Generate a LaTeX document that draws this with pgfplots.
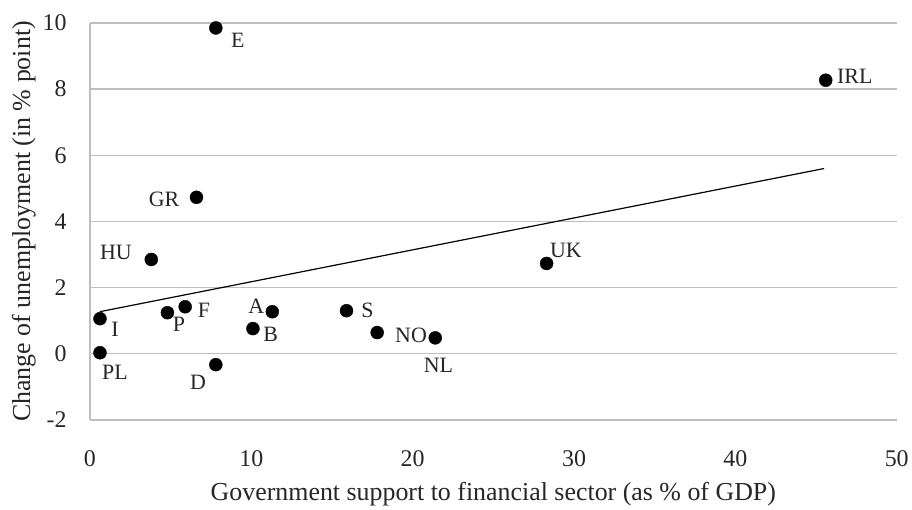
\documentclass[border=0pt]{standalone}
\usepackage{pgfplots}
\pgfplotsset{compat=1.18}
\usepackage{fontspec}
\setmainfont{Liberation Serif}
\definecolor{gridc}{RGB}{190,190,190}
\begin{document}
\begin{tikzpicture}
\begin{axis}[
  name=ax,
  scale only axis, width=807bp, height=397bp,
  xmin=0, xmax=50, ymin=-2, ymax=10,
  xtick={0,10,...,50}, ytick={-2,0,...,10},
  axis x line=bottom, axis y line=left,
  axis line style={-, gridc, line width=1.4bp},
  ymajorgrids, grid style={gridc, line width=1.4bp},
  major tick length=0pt,
  tick label style={font=\fontsize{24}{28}\selectfont, text=black!85},
  /pgf/number format/assume math mode=true,
  xticklabel style={yshift=-27bp},
  yticklabel style={xshift=-20bp},
  xlabel={Government support to financial sector (as \% of GDP)},
  ylabel={Change of unemployment (in \% point)},
  label style={font=\fontsize{26}{30}\selectfont, text=black!85},
  xlabel style={yshift=-9bp},
  ylabel style={yshift=0bp},
  clip=false,
]
\addplot[only marks, mark=*, mark size=6.5bp, black] coordinates {
  (7.8,9.85) (45.6,8.27) (6.6,4.73) (3.8,2.85) (28.3,2.73)
  (0.62,1.06) (0.62,0.03) (4.8,1.24) (5.9,1.42) (11.3,1.27)
  (10.1,0.76) (7.8,-0.33) (15.9,1.30) (17.8,0.64) (21.4,0.48)
};
\addplot[black, line width=1.2bp] coordinates {(0.6,1.27) (45.5,5.6)};
\begin{scope}[every node/.style={font=\fontsize{22}{26}\selectfont, text=black!85}]
\node at (axis cs:9.17,9.48) {E};
\node at (axis cs:47.4,8.39) {IRL};
\node at (axis cs:4.59,4.67) {GR};
\node at (axis cs:1.61,3.06) {HU};
\node at (axis cs:29.5,3.12) {UK};
\node at (axis cs:1.55,0.73) {I};
\node at (axis cs:1.55,-0.55) {PL};
\node at (axis cs:5.51,0.88) {P};
\node at (axis cs:7.06,1.3) {F};
\node at (axis cs:10.3,1.42) {A};
\node at (axis cs:11.2,0.58) {B};
\node at (axis cs:17.2,1.3) {S};
\node at (axis cs:19.9,0.55) {NO};
\node at (axis cs:21.6,-0.36) {NL};
\node at (axis cs:6.7,-0.88) {D};
\end{scope}
\end{axis}
\path[use as bounding box] (ax.south west) ++(-90bp,-86bp) rectangle ++(912bp,506bp);
\end{tikzpicture}
\end{document}
